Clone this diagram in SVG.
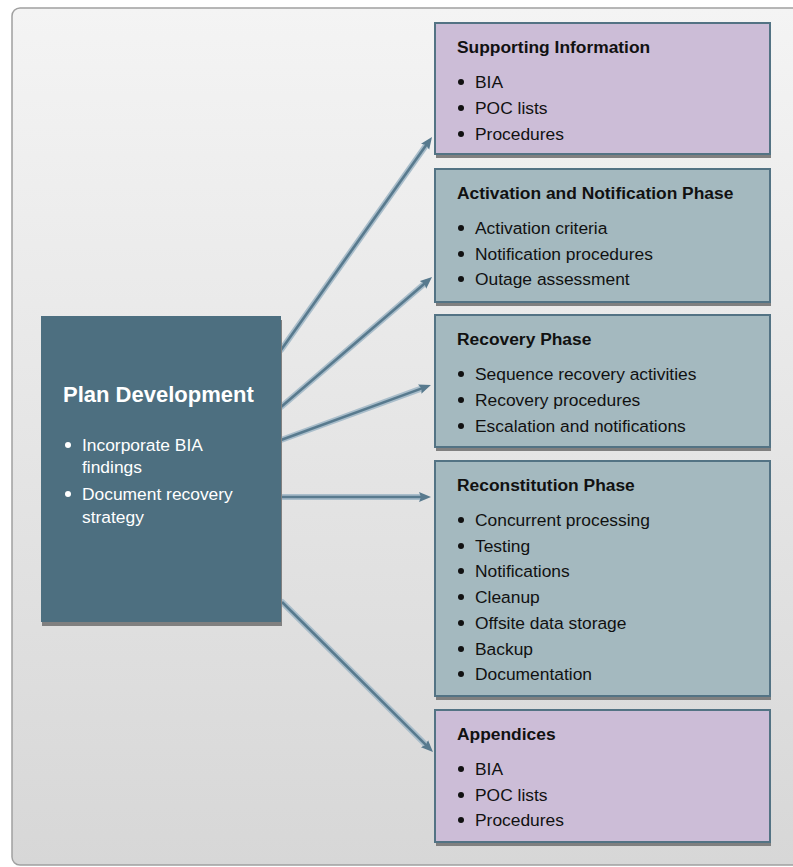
<svg xmlns="http://www.w3.org/2000/svg" width="793" height="867" viewBox="0 0 793 867">
<defs>
<linearGradient id="bg" x1="0" y1="0" x2="0" y2="1">
<stop offset="0" stop-color="#f4f4f4"/>
<stop offset="1" stop-color="#d7d7d7"/>
</linearGradient>
<marker id="ah" markerUnits="userSpaceOnUse" markerWidth="13" markerHeight="11" refX="3" refY="5.5" orient="auto">
<path d="M0,0.5 L12,5.5 L0,10.5 L2,5.5 z" fill="#587a8e"/>
</marker>
<style>
text{font-family:"Liberation Sans",Arial,sans-serif;fill:#111}
.t{font-size:17.4px;font-weight:bold}
.b{font-size:17.4px}
.pt{font-size:22px;font-weight:bold;fill:#fff}
.pb{font-size:17.4px;fill:#fff}
.sh{fill:#808080}
.purple{fill:#ccbdd7;stroke:#537384;stroke-width:2}
.teal{fill:#a4b9bf;stroke:#537384;stroke-width:2}
.dot{fill:#111}
.wdot{fill:#fff}
.halo{stroke:#a9bdca;stroke-width:6;fill:none;stroke-linecap:round}
.line{stroke:#587a8e;stroke-width:2.6;fill:none;marker-end:url(#ah)}
</style>
</defs>
<rect x="12" y="8" width="800" height="857" rx="8" fill="url(#bg)" stroke="#a0a0a0" stroke-width="1.5"/>

<g id="connectors">
<path class="halo" d="M281,350 L426.8,144.3"/>
<path class="halo" d="M281,407 L425.2,282.9"/>
<path class="halo" d="M281,440 L422.5,388.1"/>
<path class="halo" d="M281,497 L422,497"/>
<path class="halo" d="M282,602 L426.6,745.7"/>
<path class="line" d="M281,350 L426.8,144.3"/>
<path class="line" d="M281,407 L425.2,282.9"/>
<path class="line" d="M281,440 L422.5,388.1"/>
<path class="line" d="M281,497 L422,497"/>
<path class="line" d="M282,602 L426.6,745.7"/>
</g>

<g id="plan-development">
<rect class="sh" x="42" y="320" width="240" height="306"/>
<rect x="41" y="316" width="240" height="306" fill="#4d6f80"/>
<text class="pt" x="63" y="402">Plan Development</text>
<circle class="wdot" cx="68" cy="445" r="3"/>
<text class="pb" x="82" y="451">Incorporate BIA</text>
<text class="pb" x="82" y="473">findings</text>
<circle class="wdot" cx="68" cy="494" r="3"/>
<text class="pb" x="82" y="500">Document recovery</text>
<text class="pb" x="82" y="523">strategy</text>
</g>

<g id="supporting-information">
<rect class="sh" x="436" y="27" width="335" height="131"/>
<rect class="purple" x="435" y="23" width="335" height="131"/>
<text class="t" x="457" y="53">Supporting Information</text>
<circle class="dot" cx="461" cy="82" r="3"/>
<text class="b" x="475" y="88">BIA</text>
<circle class="dot" cx="461" cy="108" r="3"/>
<text class="b" x="475" y="114">POC lists</text>
<circle class="dot" cx="461" cy="134" r="3"/>
<text class="b" x="475" y="140">Procedures</text>
</g>

<g id="activation-notification">
<rect class="sh" x="436" y="173" width="335" height="133"/>
<rect class="teal" x="435" y="169" width="335" height="133"/>
<text class="t" x="457" y="199">Activation and Notification Phase</text>
<circle class="dot" cx="461" cy="228" r="3"/>
<text class="b" x="475" y="234">Activation criteria</text>
<circle class="dot" cx="461" cy="254" r="3"/>
<text class="b" x="475" y="260">Notification procedures</text>
<circle class="dot" cx="461" cy="279" r="3"/>
<text class="b" x="475" y="285">Outage assessment</text>
</g>

<g id="recovery-phase">
<rect class="sh" x="436" y="319" width="335" height="132"/>
<rect class="teal" x="435" y="315" width="335" height="132"/>
<text class="t" x="457" y="345">Recovery Phase</text>
<circle class="dot" cx="461" cy="374" r="3"/>
<text class="b" x="475" y="380">Sequence recovery activities</text>
<circle class="dot" cx="461" cy="400" r="3"/>
<text class="b" x="475" y="406">Recovery procedures</text>
<circle class="dot" cx="461" cy="426" r="3"/>
<text class="b" x="475" y="432">Escalation and notifications</text>
</g>

<g id="reconstitution-phase">
<rect class="sh" x="436" y="465" width="335" height="235"/>
<rect class="teal" x="435" y="461" width="335" height="235"/>
<text class="t" x="457" y="491">Reconstitution Phase</text>
<circle class="dot" cx="461" cy="520" r="3"/>
<text class="b" x="475" y="526">Concurrent processing</text>
<circle class="dot" cx="461" cy="546" r="3"/>
<text class="b" x="475" y="552">Testing</text>
<circle class="dot" cx="461" cy="571" r="3"/>
<text class="b" x="475" y="577">Notifications</text>
<circle class="dot" cx="461" cy="597" r="3"/>
<text class="b" x="475" y="603">Cleanup</text>
<circle class="dot" cx="461" cy="623" r="3"/>
<text class="b" x="475" y="629">Offsite data storage</text>
<circle class="dot" cx="461" cy="649" r="3"/>
<text class="b" x="475" y="655">Backup</text>
<circle class="dot" cx="461" cy="674" r="3"/>
<text class="b" x="475" y="680">Documentation</text>
</g>

<g id="appendices">
<rect class="sh" x="436" y="714" width="335" height="132"/>
<rect class="purple" x="435" y="710" width="335" height="132"/>
<text class="t" x="457" y="740">Appendices</text>
<circle class="dot" cx="461" cy="769" r="3"/>
<text class="b" x="475" y="775">BIA</text>
<circle class="dot" cx="461" cy="795" r="3"/>
<text class="b" x="475" y="801">POC lists</text>
<circle class="dot" cx="461" cy="820" r="3"/>
<text class="b" x="475" y="826">Procedures</text>
</g>
</svg>
